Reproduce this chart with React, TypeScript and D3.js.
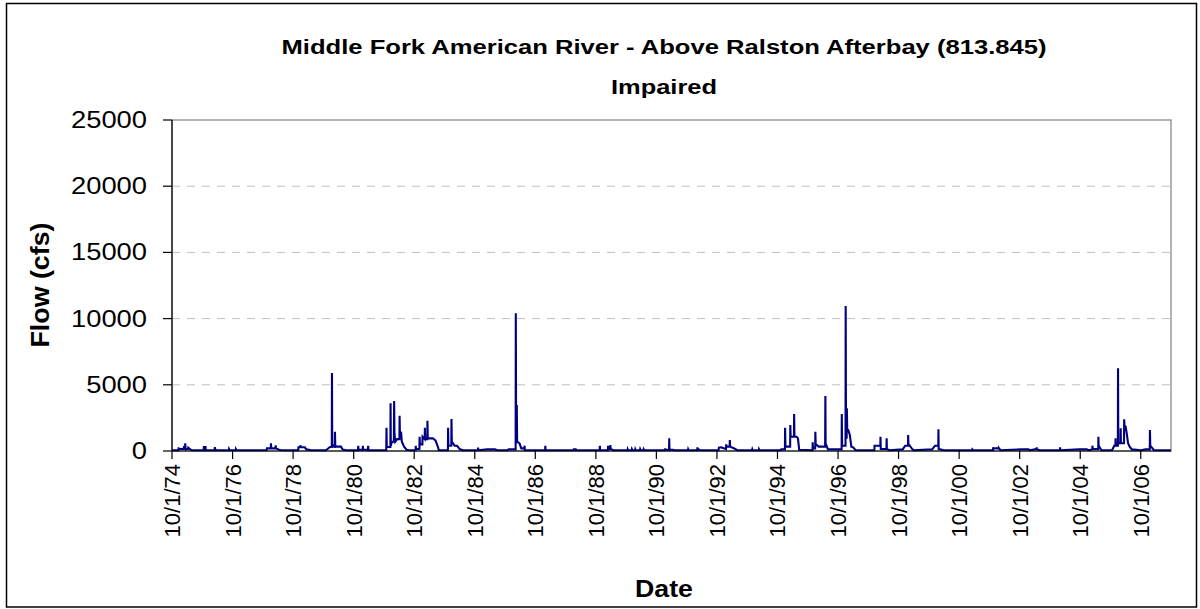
import React from 'react';
import * as d3 from 'd3';

const chartTitle = 'Middle Fork American River - Above Ralston Afterbay (813.845)';
const chartSubtitle = 'Impaired';
const xAxisTitle = 'Date';
const yAxisTitle = 'Flow (cfs)';

const yTickValues = [0, 5000, 10000, 15000, 20000, 25000];
const yGridValues = [5000, 10000, 15000, 20000];

const xTickDates = [
  '1974-10-01', '1976-10-01', '1978-10-01', '1980-10-01', '1982-10-01', '1984-10-01',
  '1986-10-01', '1988-10-01', '1990-10-01', '1992-10-01', '1994-10-01', '1996-10-01',
  '1998-10-01', '2000-10-01', '2002-10-01', '2004-10-01', '2006-10-01',
];
const xDomainDates = ['1974-10-01', '2007-10-01'];

// Daily flow (cfs) at the visible turning points
const flowPoints: [string, number][] = [
  ['1974-10-01', 60], ['1974-12-18', 60], ['1974-12-20', 200], ['1975-01-10', 150],
  ['1975-02-18', 150], ['1975-02-20', 250], ['1975-03-08', 150], ['1975-03-10', 580],
  ['1975-03-13', 150], ['1975-04-13', 150], ['1975-04-15', 250], ['1975-05-10', 120],
  ['1975-06-01', 60], ['1975-10-18', 60], ['1975-10-20', 300], ['1975-11-10', 300],
  ['1975-11-12', 60], ['1976-02-27', 60], ['1976-03-01', 300], ['1976-03-04', 150],
  ['1976-03-20', 60], ['1976-08-18', 60], ['1976-08-20', 150], ['1976-08-28', 60],
  ['1976-11-08', 60], ['1976-11-10', 150], ['1976-11-18', 60], ['1977-11-15', 60],
  ['1977-11-20', 200], ['1978-01-05', 200], ['1978-01-07', 580], ['1978-01-10', 200],
  ['1978-03-03', 200], ['1978-03-05', 430], ['1978-03-08', 200], ['1978-04-15', 100],
  ['1978-05-10', 60], ['1978-12-01', 60], ['1978-12-05', 280], ['1978-12-26', 280],
  ['1978-12-28', 430], ['1979-01-02', 280], ['1979-02-20', 280], ['1979-03-10', 120],
  ['1979-05-10', 60], ['1979-11-01', 60], ['1979-11-20', 150], ['1979-12-20', 300],
  ['1980-01-11', 300], ['1980-01-13', 5900], ['1980-01-16', 500], ['1980-02-10', 300],
  ['1980-02-16', 300], ['1980-02-18', 1460], ['1980-02-22', 400], ['1980-03-10', 330],
  ['1980-05-01', 330], ['1980-05-20', 120], ['1980-07-01', 60], ['1980-11-22', 60],
  ['1980-11-25', 400], ['1980-11-28', 100], ['1981-01-18', 100], ['1981-01-20', 400],
  ['1981-01-23', 100], ['1981-03-22', 100], ['1981-03-25', 400], ['1981-03-28', 60],
  ['1981-10-29', 60], ['1981-11-01', 1760], ['1981-11-04', 300], ['1981-12-18', 300],
  ['1981-12-20', 3600], ['1981-12-23', 400], ['1982-01-05', 700], ['1982-01-29', 700],
  ['1982-02-01', 3780], ['1982-02-05', 1330], ['1982-02-15', 700], ['1982-03-10', 900],
  ['1982-04-06', 900], ['1982-04-08', 2670], ['1982-04-12', 1100], ['1982-04-23', 1100],
  ['1982-04-25', 1460], ['1982-05-05', 700], ['1982-06-01', 330], ['1982-07-01', 100],
  ['1982-08-01', 60], ['1982-10-18', 60], ['1982-10-20', 400], ['1982-10-23', 150],
  ['1982-12-03', 150], ['1982-12-05', 1080], ['1982-12-09', 500], ['1983-01-08', 500],
  ['1983-01-10', 1080], ['1983-02-05', 900], ['1983-02-07', 1760], ['1983-02-10', 900],
  ['1983-03-08', 900], ['1983-03-10', 2290], ['1983-03-14', 950], ['1983-05-15', 950],
  ['1983-06-15', 800], ['1983-07-15', 300], ['1983-07-25', 60], ['1983-11-12', 60],
  ['1983-11-14', 1760], ['1983-11-18', 400], ['1983-12-23', 400], ['1983-12-25', 2420],
  ['1983-12-29', 700], ['1984-02-01', 400], ['1984-03-01', 400], ['1984-04-01', 150],
  ['1984-05-10', 60], ['1984-11-08', 60], ['1984-11-10', 250], ['1984-11-13', 60],
  ['1985-03-01', 120], ['1985-06-01', 120], ['1985-07-01', 60], ['1985-11-01', 60],
  ['1985-11-15', 120], ['1986-02-06', 120], ['1986-02-08', 10400], ['1986-02-12', 600],
  ['1986-02-20', 3475], ['1986-02-24', 700], ['1986-03-25', 580], ['1986-04-15', 200],
  ['1986-05-22', 200], ['1986-05-25', 400], ['1986-05-28', 60], ['1987-01-28', 60],
  ['1987-01-30', 400], ['1987-02-02', 60], ['1988-01-05', 60], ['1988-01-08', 130],
  ['1988-02-01', 130], ['1988-02-04', 60], ['1988-11-16', 60], ['1988-11-18', 400],
  ['1988-11-21', 60], ['1989-02-23', 60], ['1989-02-25', 400], ['1989-02-28', 150],
  ['1989-03-23', 150], ['1989-03-25', 450], ['1989-03-28', 150], ['1989-05-01', 60],
  ['1989-10-18', 60], ['1989-10-20', 130], ['1989-10-25', 60], ['1989-12-08', 60],
  ['1989-12-10', 130], ['1989-12-15', 60], ['1990-01-18', 60], ['1990-01-20', 130],
  ['1990-01-25', 60], ['1990-03-18', 60], ['1990-03-20', 130], ['1990-03-25', 60],
  ['1990-04-28', 60], ['1990-05-01', 130], ['1990-05-06', 60], ['1991-01-10', 60],
  ['1991-01-15', 130], ['1991-02-25', 60], ['1991-03-03', 60], ['1991-03-05', 960],
  ['1991-03-08', 100], ['1991-04-20', 100], ['1991-05-01', 60], ['1991-10-18', 60],
  ['1991-10-20', 130], ['1991-10-25', 60], ['1992-02-06', 60], ['1992-02-08', 280],
  ['1992-02-11', 150], ['1992-03-15', 60], ['1992-10-20', 60], ['1992-10-25', 250],
  ['1992-11-20', 280], ['1993-01-18', 150], ['1993-01-20', 500], ['1993-01-23', 330],
  ['1993-03-03', 330], ['1993-03-05', 830], ['1993-03-09', 330], ['1993-05-10', 150],
  ['1993-06-01', 60], ['1993-11-28', 60], ['1993-12-01', 130], ['1993-12-05', 60],
  ['1994-02-18', 60], ['1994-02-20', 130], ['1994-02-25', 60], ['1994-11-10', 60],
  ['1994-11-15', 120], ['1994-12-30', 120], ['1995-01-01', 1760], ['1995-01-05', 330],
  ['1995-03-03', 330], ['1995-03-05', 1960], ['1995-03-09', 1080], ['1995-04-18', 1080],
  ['1995-04-20', 2795], ['1995-04-24', 1080], ['1995-05-20', 1080], ['1995-06-05', 950],
  ['1995-06-20', 100], ['1995-11-28', 60], ['1995-11-30', 650], ['1995-12-03', 200],
  ['1995-12-30', 200], ['1996-01-01', 1460], ['1996-01-05', 530], ['1996-02-10', 330],
  ['1996-04-28', 330], ['1996-05-01', 4150], ['1996-05-04', 580], ['1996-06-01', 120],
  ['1996-11-13', 120], ['1996-11-15', 2795], ['1996-11-19', 400], ['1996-12-30', 400],
  ['1997-01-01', 10950], ['1997-01-05', 1000], ['1997-01-13', 1000], ['1997-01-15', 3220],
  ['1997-01-20', 1590], ['1997-02-01', 1590], ['1997-02-20', 1210], ['1997-03-10', 330],
  ['1997-04-01', 280], ['1997-05-01', 60], ['1997-12-13', 60], ['1997-12-15', 400],
  ['1998-01-15', 400], ['1998-02-23', 400], ['1998-02-25', 1080], ['1998-02-28', 150],
  ['1998-05-08', 150], ['1998-05-10', 960], ['1998-05-13', 150], ['1998-06-10', 60],
  ['1998-11-20', 120], ['1998-12-20', 400], ['1999-01-23', 400], ['1999-01-25', 1210],
  ['1999-01-28', 530], ['1999-03-15', 150], ['1999-04-01', 60], ['1999-11-10', 120],
  ['1999-12-15', 400], ['2000-01-23', 400], ['2000-01-25', 1640], ['2000-01-28', 150],
  ['2000-04-01', 60], ['2001-03-08', 60], ['2001-03-10', 120], ['2001-03-20', 60],
  ['2001-11-13', 60], ['2001-11-15', 280], ['2001-11-20', 200], ['2002-01-18', 200],
  ['2002-01-20', 250], ['2002-02-10', 60], ['2002-10-25', 120], ['2003-01-15', 120],
  ['2003-02-01', 60], ['2003-04-01', 120], ['2003-04-23', 120], ['2003-04-25', 280],
  ['2003-04-28', 120], ['2003-06-01', 60], ['2004-01-30', 60], ['2004-02-01', 280],
  ['2004-02-04', 60], ['2004-09-20', 120], ['2004-12-20', 120], ['2005-01-10', 60],
  ['2005-02-23', 120], ['2005-02-25', 400], ['2005-03-01', 150], ['2005-05-06', 150],
  ['2005-05-08', 1080], ['2005-05-11', 400], ['2005-06-15', 60], ['2005-10-20', 60],
  ['2005-11-15', 400], ['2005-11-29', 400], ['2005-12-01', 960], ['2005-12-04', 400],
  ['2005-12-29', 400], ['2005-12-31', 6245], ['2006-01-03', 580], ['2006-01-30', 580],
  ['2006-02-01', 1710], ['2006-02-04', 580], ['2006-03-13', 580], ['2006-03-15', 2390],
  ['2006-03-19', 1840], ['2006-04-01', 1840], ['2006-04-15', 1330], ['2006-05-01', 580],
  ['2006-05-20', 330], ['2006-06-15', 120], ['2006-10-01', 60], ['2006-12-01', 120],
  ['2007-01-18', 120], ['2007-01-20', 1590], ['2007-01-24', 400], ['2007-02-20', 200],
  ['2007-03-10', 60], ['2007-09-30', 60],
];

const W = 1200;
const H = 609;
const plot = { left: 172, right: 1171, top: 120, bottom: 451 };
const FONT = "'Liberation Sans', Arial, sans-serif";

export default function App() {
  const parse = d3.timeParse('%Y-%m-%d');
  const fmt = d3.timeFormat('%-m/%-d/%y');
  const x = d3
    .scaleTime()
    .domain(xDomainDates.map((d) => parse(d) as Date))
    .range([plot.left, plot.right]);
  const y = d3.scaleLinear().domain([0, 25000]).range([plot.bottom, plot.top]);
  const data = flowPoints.map(([d, v]) => ({ date: parse(d) as Date, v }));
  const line = d3
    .line<{ date: Date; v: number }>()
    .x((d) => x(d.date))
    .y((d) => y(d.v));
  const ticks = xTickDates.map((d) => parse(d) as Date);
  const cx = 664;

  return (
    <svg
      width={W}
      height={H}
      style={{ position: 'absolute', left: 0, top: 0, background: '#fff' }}
      fontFamily={FONT}
    >
      <rect x={0} y={0} width={W} height={H} fill="#fff" />
      <rect x={6.5} y={3.5} width={1190} height={603.5} fill="none" stroke="#000" strokeWidth={1.5} />

      <text x={cx} y={54} textAnchor="middle" fontSize={21} fontWeight="bold" textLength={765} lengthAdjust="spacingAndGlyphs">
        {chartTitle}
      </text>
      <text x={cx} y={94} textAnchor="middle" fontSize={21} fontWeight="bold" textLength={106} lengthAdjust="spacingAndGlyphs">
        {chartSubtitle}
      </text>

      {/* plot frame */}
      <rect
        x={plot.left}
        y={plot.top}
        width={plot.right - plot.left}
        height={plot.bottom - plot.top}
        fill="#fff"
        stroke="#808080"
        strokeWidth={1.2}
      />
      {yGridValues.map((v) => (
        <line
          key={v}
          x1={plot.left}
          x2={plot.right}
          y1={y(v)}
          y2={y(v)}
          stroke="#c0c0c0"
          strokeWidth={1}
          strokeDasharray="8,7"
        />
      ))}

      {/* y axis */}
      <line x1={plot.left} x2={plot.left} y1={plot.top} y2={plot.bottom} stroke="#000" strokeWidth={1.2} />
      {yTickValues.map((v) => (
        <g key={v}>
          <line x1={plot.left - 9} x2={plot.left} y1={y(v)} y2={y(v)} stroke="#000" strokeWidth={1.2} />
          <text
            x={147}
            y={y(v)}
            textAnchor="end"
            dominantBaseline="central"
            fontSize={23}
            textLength={String(v).length * 15.2}
            lengthAdjust="spacingAndGlyphs"
          >
            {String(v)}
          </text>
        </g>
      ))}

      {/* data */}
      <path d={line(data) ?? ''} fill="none" stroke="#000080" strokeWidth={2.1} strokeLinejoin="miter" />

      {/* x axis */}
      <line x1={plot.left} x2={plot.right} y1={plot.bottom} y2={plot.bottom} stroke="#000" strokeWidth={1.2} />
      {ticks.map((t, i) => (
        <g key={i}>
          <line x1={x(t)} x2={x(t)} y1={plot.bottom} y2={plot.bottom + 8} stroke="#000" strokeWidth={1.2} />
          <text
            transform={`translate(${x(t) + 8},464) rotate(-90)`}
            textAnchor="end"
            fontSize={22}
          >
            {fmt(t)}
          </text>
        </g>
      ))}

      <text x={cx} y={597} textAnchor="middle" fontSize={23} fontWeight="bold" textLength={58} lengthAdjust="spacingAndGlyphs">
        {xAxisTitle}
      </text>
      <text
        transform={`translate(49,285) rotate(-90)`}
        textAnchor="middle"
        fontSize={26}
        fontWeight="bold"
        textLength={125}
        lengthAdjust="spacingAndGlyphs"
      >
        {yAxisTitle}
      </text>
    </svg>
  );
}
